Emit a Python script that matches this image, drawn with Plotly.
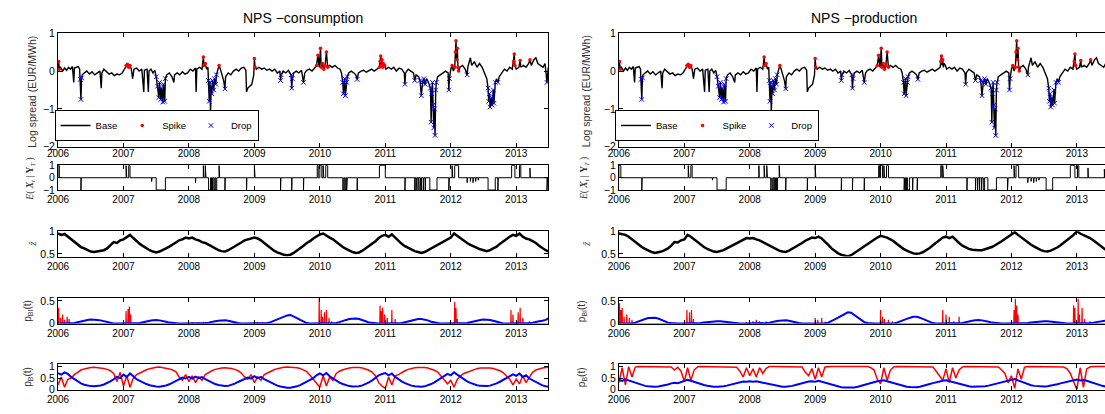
import numpy as np
import plotly.graph_objects as go

W, H = 1105, 414
years = [2006, 2007, 2008, 2009, 2010, 2011, 2012, 2013]

# ---------------- Row 1: log spread (decimal year, value) ----------------
spread_t = [
    2006.00, 2006.01, 2006.02, 2006.04, 2006.07, 2006.10, 2006.13, 2006.16, 2006.19, 2006.22, 2006.24, 2006.25,
    2006.28, 2006.31, 2006.33, 2006.34, 2006.35, 2006.36, 2006.37, 2006.40, 2006.44, 2006.48, 2006.52, 2006.56,
    2006.60, 2006.64, 2006.66, 2006.67, 2006.70, 2006.74, 2006.78, 2006.82, 2006.86, 2006.90, 2006.94, 2006.98,
    2007.01, 2007.04, 2007.06, 2007.08, 2007.10, 2007.12, 2007.14, 2007.16, 2007.20, 2007.24, 2007.28, 2007.31,
    2007.32, 2007.36, 2007.38, 2007.39, 2007.42, 2007.45, 2007.48, 2007.50, 2007.52, 2007.54, 2007.55, 2007.57,
    2007.58, 2007.60, 2007.61, 2007.63, 2007.64, 2007.66, 2007.70, 2007.74, 2007.77, 2007.78, 2007.82, 2007.86,
    2007.90, 2007.94, 2007.98,
    2008.02, 2008.06, 2008.10, 2008.11, 2008.12, 2008.16, 2008.20, 2008.22, 2008.23, 2008.25, 2008.27, 2008.29,
    2008.30, 2008.31, 2008.32, 2008.33, 2008.34, 2008.35, 2008.36, 2008.38, 2008.39, 2008.41, 2008.42, 2008.44,
    2008.46, 2008.48, 2008.51, 2008.53, 2008.55, 2008.56, 2008.60, 2008.64, 2008.68, 2008.72, 2008.76, 2008.80,
    2008.84, 2008.87, 2008.88, 2008.90, 2008.93, 2008.96, 2008.99,
    2009.00, 2009.01, 2009.03, 2009.07, 2009.11, 2009.15, 2009.19, 2009.23, 2009.27, 2009.31, 2009.35, 2009.39,
    2009.40, 2009.41, 2009.44, 2009.48, 2009.52, 2009.56, 2009.57, 2009.58, 2009.60, 2009.64, 2009.68, 2009.72,
    2009.75, 2009.77, 2009.80, 2009.84, 2009.88, 2009.92, 2009.95, 2009.97, 2009.99,
    2010.01, 2010.02, 2010.04, 2010.06, 2010.08, 2010.10, 2010.12, 2010.15, 2010.19, 2010.23, 2010.27, 2010.31,
    2010.33, 2010.35, 2010.36, 2010.38, 2010.39, 2010.41, 2010.42, 2010.44, 2010.48, 2010.52, 2010.55, 2010.57,
    2010.59, 2010.63, 2010.67, 2010.71, 2010.75, 2010.79, 2010.83, 2010.87, 2010.91, 2010.92, 2010.93, 2010.94,
    2010.95, 2010.96, 2010.97, 2010.99,
    2011.01, 2011.05, 2011.09, 2011.13, 2011.17, 2011.21, 2011.25, 2011.29, 2011.30, 2011.31, 2011.35, 2011.39,
    2011.43, 2011.45, 2011.47, 2011.51, 2011.53, 2011.55, 2011.57, 2011.59, 2011.61, 2011.63, 2011.66, 2011.69,
    2011.70, 2011.71, 2011.72, 2011.73, 2011.74, 2011.75, 2011.76, 2011.77, 2011.78, 2011.80, 2011.84, 2011.88,
    2011.92, 2011.96, 2011.97, 2011.98,
    2012.00, 2012.02, 2012.04, 2012.06, 2012.07, 2012.08, 2012.09, 2012.10, 2012.11, 2012.12, 2012.14, 2012.18,
    2012.22, 2012.25, 2012.26, 2012.28, 2012.30, 2012.32, 2012.36, 2012.40, 2012.44, 2012.48, 2012.52, 2012.55,
    2012.57, 2012.58, 2012.59, 2012.60, 2012.62, 2012.63, 2012.65, 2012.66, 2012.68, 2012.70, 2012.72, 2012.74,
    2012.78, 2012.82, 2012.86, 2012.90, 2012.94, 2012.96, 2012.97, 2012.98,
    2013.00, 2013.04, 2013.06, 2013.07, 2013.11, 2013.15, 2013.19, 2013.21, 2013.23, 2013.27, 2013.30, 2013.33,
    2013.37, 2013.41, 2013.44, 2013.47, 2013.49,
]
spread_v = [
    0.05, 0.25, 0.05, 0.10, 0.00, 0.08, 0.02, 0.10, 0.05, 0.12, -0.30, 0.08,
    0.10, 0.12, 0.05, -0.22, -0.75, -0.18, -0.10, -0.05, 0.00, -0.08, -0.02, -0.10,
    -0.05, 0.00, -0.45, -0.05, 0.05, -0.02, -0.08, -0.05, -0.12, -0.08, -0.10, -0.05,
    0.05, 0.15, 0.18, 0.10, 0.15, 0.05, -0.20, 0.05, 0.08, 0.00, 0.05, -0.55,
    0.02, 0.05, -0.55, 0.00, 0.05, -0.05, 0.02, -0.15, -0.40, -0.70, -0.30, -0.75,
    -0.45, -0.82, -0.35, -0.80, -0.20, -0.10, -0.05, -0.15, -0.30, -0.10, -0.05, -0.10,
    -0.02, -0.08, -0.05,
    0.05, 0.00, 0.08, -0.55, 0.05, 0.10, 0.05, 0.37, 0.15, 0.20, 0.05, 0.10,
    -0.25, -0.80, -0.30, -1.10, -0.40, -0.60, -0.25, -0.50, -0.20, -0.35, -0.10, 0.00,
    0.15, 0.05, -0.10, -0.25, -0.47, -0.15, -0.05, -0.10, 0.00, 0.05, 0.00, 0.08,
    0.10, 0.02, -0.55, -0.45, -0.40, -0.35, -0.10,
    0.33, 0.10, 0.05, 0.10, 0.05, 0.08, 0.02, 0.05, 0.00, 0.05, -0.05, 0.00,
    -0.25, -0.10, 0.00, -0.05, 0.02, -0.10, -0.45, -0.20, -0.05, 0.00, -0.05, 0.02,
    -0.30, -0.05, 0.02, 0.05, 0.00, 0.08, 0.15, 0.42, 0.10,
    0.60, 0.10, 0.20, 0.05, 0.15, 0.50, 0.10, 0.15, 0.10, 0.15, 0.08, 0.05,
    -0.05, -0.30, -0.60, -0.20, -0.65, -0.30, -0.15, -0.05, 0.00, -0.05, -0.10, -0.22,
    -0.05, 0.00, 0.02, -0.03, 0.00, 0.05, 0.00, 0.05, 0.10, 0.25, 0.40, 0.15,
    0.30, 0.10, 0.20, 0.15,
    0.05, 0.10, 0.05, 0.10, 0.00, 0.08, 0.05, -0.05, -0.35, -0.05, 0.05, 0.00,
    -0.05, -0.25, -0.10, -0.15, -0.25, -0.65, -0.30, -0.20, -0.35, -0.20, -0.30, -0.45,
    -1.35, -0.60, -0.30, -0.90, -1.50, -1.00, -1.70, -0.50, -0.30, -0.15, -0.10, -0.05,
    0.00, -0.05, -0.50, -0.20,
    0.05, 0.15, 0.00, 0.10, 0.50, 0.80, 0.30, 0.60, 0.10, 0.00, 0.10, 0.15,
    0.05, -0.10, 0.10, 0.20, 0.35, 0.15, 0.25, 0.10, 0.20, 0.10, -0.05, -0.20,
    -0.45, -0.80, -0.60, -0.95, -0.70, -0.90, -0.50, -0.85, -0.30, -0.20, -0.30, -0.15,
    -0.05, 0.05, 0.00, 0.10, 0.05, 0.25, 0.45, 0.15,
    0.05, 0.10, 0.28, 0.10, 0.15, 0.10, 0.20, 0.30, 0.15, 0.30, 0.35, 0.20,
    0.15, 0.10, 0.20, -0.30, 0.10,
]
spike_t_cons = [
    2006.01, 2006.02, 2007.04, 2007.06, 2007.08, 2007.10, 2008.22, 2008.23, 2008.25, 2008.46,
    2009.00, 2009.01, 2009.95, 2009.97, 2010.01, 2010.02, 2010.04, 2010.06, 2010.08, 2010.10,
    2010.12, 2010.91, 2010.92, 2010.93, 2010.94, 2010.95, 2010.96, 2010.97, 2010.99, 2012.02,
    2012.06, 2012.07, 2012.08, 2012.09, 2012.10, 2012.11, 2012.12, 2012.96, 2012.97, 2012.98,
    2013.06, 2013.21,
]
spike_t_prod = [
    2006.01, 2006.02, 2007.04, 2007.06, 2007.08, 2007.10, 2008.22, 2008.23, 2008.25, 2008.46,
    2009.00, 2009.01, 2009.95, 2009.97, 2010.01, 2010.02, 2010.04, 2010.06, 2010.08, 2010.10,
    2010.12, 2010.92, 2010.93, 2010.95, 2012.02,
    2012.06, 2012.07, 2012.08, 2012.09, 2012.10, 2012.11, 2012.12, 2012.96, 2012.97, 2012.98,
    2013.06, 2013.21,
]
drop_t = [
    2006.34, 2006.35, 2006.36, 2007.50, 2007.52, 2007.54, 2007.55, 2007.57, 2007.58, 2007.60,
    2007.61, 2007.63, 2007.64, 2008.30, 2008.31, 2008.32, 2008.33, 2008.34, 2008.35, 2008.36,
    2008.38, 2008.39, 2008.41, 2008.42, 2008.55, 2009.40, 2009.41, 2009.56, 2009.57, 2009.58,
    2009.75, 2010.35, 2010.36, 2010.38, 2010.39, 2010.41, 2010.42, 2010.57, 2011.30, 2011.45,
    2011.53, 2011.55, 2011.57, 2011.59, 2011.61, 2011.69, 2011.70, 2011.71, 2011.72, 2011.73,
    2011.74, 2011.75, 2011.76, 2011.77, 2011.78, 2011.97, 2011.98, 2012.25, 2012.57, 2012.58,
    2012.59, 2012.60, 2012.62, 2012.63, 2012.65, 2012.66, 2012.68, 2012.72, 2013.47,
]

# ---------------- Row 2: E(X_t | Y_T) regime episodes (start, end, level) ----------------
cons_E_start = [2006.000, 2006.350, 2007.040, 2007.080, 2007.430, 2007.500, 2008.100, 2008.220, 2008.250,
                2008.300, 2008.345, 2008.380, 2008.410, 2008.460, 2008.550, 2008.880, 2009.000, 2009.400,
                2009.570, 2009.750, 2009.960, 2010.000, 2010.050, 2010.090, 2010.350, 2010.380, 2010.410,
                2010.570, 2010.910, 2011.300, 2011.450, 2011.470, 2011.500, 2011.530, 2011.550, 2011.580,
                2011.610, 2011.680, 2011.970, 2012.020, 2012.060, 2012.250, 2012.300, 2012.340, 2012.380,
                2012.420, 2012.570, 2012.720, 2012.930, 2013.050, 2013.210, 2013.470]
cons_E_end = [2006.020, 2006.355, 2007.050, 2007.100, 2007.435, 2007.640, 2008.105, 2008.230, 2008.260,
              2008.330, 2008.360, 2008.395, 2008.425, 2008.470, 2008.555, 2008.885, 2009.010, 2009.405,
              2009.575, 2009.755, 2009.975, 2010.030, 2010.060, 2010.120, 2010.365, 2010.395, 2010.420,
              2010.575, 2011.000, 2011.305, 2011.455, 2011.480, 2011.505, 2011.540, 2011.555, 2011.590,
              2011.615, 2011.790, 2011.980, 2012.030, 2012.120, 2012.255, 2012.305, 2012.345, 2012.385,
              2012.425, 2012.680, 2012.725, 2012.980, 2013.070, 2013.215, 2013.480]
cons_E_level = [1, -1, 1, 1, -0.3, -1, -0.4, 1, 1,
                -1, -1, -1, -1, 1, -1, -1, 1, -1,
                -1, -1, 1, 1, 1, 1, -1, -1, -1,
                -1, 1, -1, -1, -1, -1, -1, -1, -1,
                -1, -1, -1, 1, 1, -0.4, -0.3, -0.4, -0.3,
                -0.2, -1, -1, 1, 1, 0.8, -1]

prod_E_start = [2006.000, 2006.350, 2007.060, 2007.100, 2007.430, 2007.500, 2008.140, 2008.220, 2008.260,
                2008.320, 2008.345, 2008.380, 2008.410, 2008.450, 2008.550, 2008.880, 2009.000, 2009.400,
                2009.570, 2009.750, 2009.970, 2010.000, 2010.050, 2010.090, 2010.360, 2010.380, 2010.410,
                2010.490, 2010.560, 2010.920, 2010.950, 2011.320, 2011.450, 2011.480, 2011.510, 2011.540,
                2011.570, 2011.640, 2011.940, 2012.040, 2012.070, 2012.250, 2012.300, 2012.340, 2012.380,
                2012.420, 2012.530, 2012.900, 2013.010, 2013.170, 2013.420]
prod_E_end = [2006.030, 2006.355, 2007.070, 2007.120, 2007.435, 2007.640, 2008.145, 2008.230, 2008.270,
              2008.340, 2008.360, 2008.395, 2008.425, 2008.460, 2008.555, 2008.885, 2009.010, 2009.405,
              2009.575, 2009.755, 2009.985, 2010.030, 2010.060, 2010.120, 2010.370, 2010.395, 2010.440,
              2010.495, 2010.565, 2010.935, 2010.960, 2011.325, 2011.455, 2011.490, 2011.515, 2011.550,
              2011.590, 2011.770, 2011.950, 2012.050, 2012.110, 2012.255, 2012.305, 2012.345, 2012.385,
              2012.425, 2012.630, 2012.970, 2013.030, 2013.175, 2013.425]
prod_E_level = [1, -1, 1, 1, -0.2, -1, 1, 1, 1,
                -1, -1, -1, -1, 1, -1, -1, 1, -1,
                -1, -1, 1, 1, 1, 1, -1, -1, -1,
                -1, -1, 1, 1, -1, -1, -1, -1, -1,
                -1, -1, -1, 1, 1, -0.4, -0.3, -0.4, -0.3,
                -0.2, -1, 1, 1, 0.8, 0.7]

# ---------------- Rows 3-5: series on a common grid, 2006.00 .. 2013.50 every 0.05 yr ----------------
cons_z = [
    0.95, 0.92, 0.94, 0.88, 0.82, 0.75, 0.69, 0.65, 0.62, 0.58, 0.55, 0.54, 0.55, 0.57, 0.58, 0.62, 0.68, 0.76, 0.74, 0.80,
    0.82, 0.88, 0.92, 0.85, 0.78, 0.72, 0.67, 0.62, 0.58, 0.55, 0.53, 0.55, 0.58, 0.62, 0.66, 0.70, 0.75, 0.80, 0.82, 0.86,
    0.84, 0.86, 0.82, 0.80, 0.76, 0.74, 0.70, 0.66, 0.62, 0.58, 0.56, 0.55, 0.58, 0.62, 0.66, 0.70, 0.75, 0.80, 0.82, 0.84,
    0.86, 0.84, 0.80, 0.74, 0.68, 0.62, 0.57, 0.53, 0.50, 0.48, 0.47, 0.48, 0.52, 0.57, 0.62, 0.68, 0.74, 0.78, 0.84, 0.88,
    0.93, 0.95, 0.90, 0.86, 0.82, 0.76, 0.70, 0.65, 0.61, 0.57, 0.54, 0.52, 0.53, 0.57, 0.62, 0.67, 0.72, 0.78, 0.85, 0.90,
    0.92, 0.88, 0.93, 0.86, 0.78, 0.72, 0.67, 0.63, 0.60, 0.56, 0.54, 0.52, 0.54, 0.58, 0.62, 0.66, 0.70, 0.74, 0.78, 0.82,
    0.86, 0.95, 0.90, 0.84, 0.78, 0.74, 0.70, 0.66, 0.63, 0.60, 0.58, 0.56, 0.58, 0.62, 0.66, 0.72, 0.78, 0.84, 0.88, 0.92,
    0.90, 0.95, 0.88, 0.84, 0.82, 0.78, 0.74, 0.68, 0.62, 0.58, 0.55,
]
prod_z = [
    0.95, 0.93, 0.92, 0.88, 0.82, 0.76, 0.70, 0.65, 0.61, 0.57, 0.54, 0.52, 0.53, 0.55, 0.58, 0.62, 0.68, 0.76, 0.75, 0.80,
    0.82, 0.92, 0.88, 0.82, 0.76, 0.70, 0.65, 0.61, 0.58, 0.55, 0.54, 0.56, 0.58, 0.62, 0.66, 0.70, 0.74, 0.78, 0.82, 0.85,
    0.84, 0.85, 0.82, 0.80, 0.76, 0.72, 0.68, 0.64, 0.60, 0.57, 0.55, 0.54, 0.57, 0.61, 0.65, 0.70, 0.74, 0.79, 0.82, 0.86,
    0.85, 0.88, 0.84, 0.78, 0.70, 0.62, 0.56, 0.51, 0.48, 0.46, 0.44, 0.47, 0.52, 0.57, 0.62, 0.68, 0.73, 0.78, 0.82, 0.86,
    0.90, 0.88, 0.86, 0.82, 0.78, 0.72, 0.66, 0.61, 0.57, 0.54, 0.51, 0.50, 0.51, 0.54, 0.58, 0.63, 0.69, 0.75, 0.80, 0.86,
    0.88, 0.85, 0.88, 0.80, 0.74, 0.68, 0.64, 0.61, 0.59, 0.58, 0.58, 0.58, 0.60, 0.62, 0.65, 0.69, 0.73, 0.78, 0.83, 0.88,
    0.92, 0.98, 0.92, 0.86, 0.80, 0.75, 0.70, 0.66, 0.62, 0.58, 0.56, 0.55, 0.57, 0.60, 0.64, 0.69, 0.74, 0.80, 0.86, 0.92,
    1.00, 0.95, 0.92, 0.88, 0.85, 0.80, 0.74, 0.68, 0.63, 0.58, 0.55,
]
cons_pBI_blue = [
    0, 0, 0, 0, 0, 0.01, 0.03, 0.05, 0.07, 0.08, 0.09, 0.09, 0.08, 0.07, 0.05, 0.03, 0.01, 0, 0, 0,
    0, 0, 0, 0, 0, 0.01, 0.03, 0.05, 0.06, 0.07, 0.08, 0.07, 0.06, 0.04, 0.02, 0.01, 0, 0, 0, 0,
    0, 0, 0, 0, 0, 0.01, 0.02, 0.04, 0.05, 0.06, 0.07, 0.07, 0.06, 0.04, 0.02, 0.01, 0, 0, 0, 0,
    0, 0, 0, 0, 0.01, 0.03, 0.06, 0.09, 0.12, 0.15, 0.18, 0.19, 0.16, 0.12, 0.08, 0.04, 0.01, 0, 0, 0,
    0, 0, 0, 0, 0, 0.01, 0.03, 0.06, 0.08, 0.10, 0.11, 0.11, 0.10, 0.08, 0.05, 0.02, 0.01, 0, 0, 0,
    0, 0, 0, 0, 0, 0.01, 0.03, 0.05, 0.07, 0.09, 0.10, 0.10, 0.09, 0.07, 0.04, 0.02, 0.01, 0, 0, 0,
    0, 0, 0, 0, 0, 0.01, 0.03, 0.05, 0.07, 0.08, 0.09, 0.09, 0.08, 0.06, 0.04, 0.02, 0, 0, 0, 0,
    0, 0, 0, 0, 0.01, 0.02, 0.04, 0.05, 0.06, 0.08, 0.12,
]
prod_pBI_blue = [
    0, 0, 0, 0, 0, 0.02, 0.05, 0.08, 0.10, 0.12, 0.13, 0.13, 0.11, 0.08, 0.05, 0.02, 0.01, 0, 0, 0,
    0, 0, 0, 0, 0, 0.01, 0.02, 0.03, 0.04, 0.05, 0.05, 0.05, 0.04, 0.03, 0.02, 0.01, 0, 0, 0, 0,
    0, 0, 0, 0, 0, 0.01, 0.02, 0.04, 0.05, 0.06, 0.07, 0.07, 0.06, 0.04, 0.02, 0.01, 0, 0, 0, 0,
    0, 0, 0, 0, 0.02, 0.05, 0.09, 0.13, 0.17, 0.21, 0.25, 0.24, 0.19, 0.13, 0.07, 0.03, 0.01, 0, 0, 0,
    0, 0, 0, 0, 0, 0.02, 0.05, 0.08, 0.11, 0.13, 0.15, 0.15, 0.13, 0.10, 0.06, 0.03, 0.01, 0, 0, 0,
    0, 0, 0, 0, 0, 0.01, 0.03, 0.05, 0.06, 0.07, 0.08, 0.07, 0.06, 0.04, 0.02, 0.01, 0, 0, 0, 0,
    0, 0, 0, 0, 0, 0.01, 0.02, 0.03, 0.04, 0.04, 0.05, 0.05, 0.04, 0.03, 0.02, 0.01, 0, 0, 0, 0,
    0, 0, 0, 0, 0.01, 0.02, 0.03, 0.04, 0.05, 0.06, 0.08,
]
cons_pB_red = [
    0.20, 0.55, 0.10, 0.45, 0.50, 0.65, 0.75, 0.85, 0.90, 0.94, 0.96, 0.97, 0.96, 0.94, 0.92, 0.88, 0.82, 0.70, 0.35, 0.75,
    0.15, 0.60, 0.10, 0.50, 0.65, 0.72, 0.80, 0.86, 0.91, 0.95, 0.97, 0.98, 0.96, 0.93, 0.90, 0.85, 0.78, 0.55, 0.40, 0.65,
    0.35, 0.60, 0.30, 0.55, 0.40, 0.65, 0.75, 0.82, 0.88, 0.92, 0.94, 0.95, 0.94, 0.92, 0.88, 0.82, 0.72, 0.55, 0.45, 0.65,
    0.30, 0.55, 0.40, 0.65, 0.72, 0.80, 0.86, 0.91, 0.95, 0.97, 0.98, 0.98, 0.97, 0.95, 0.92, 0.86, 0.78, 0.62, 0.45, 0.30,
    0.10, 0.60, 0.15, 0.55, 0.40, 0.70, 0.80, 0.86, 0.91, 0.94, 0.96, 0.97, 0.96, 0.94, 0.90, 0.84, 0.75, 0.60, 0.30, 0.15,
    0.05, 0.55, 0.20, 0.60, 0.65, 0.75, 0.82, 0.88, 0.92, 0.95, 0.96, 0.97, 0.96, 0.94, 0.90, 0.84, 0.76, 0.60, 0.45, 0.25,
    0.40, 0.10, 0.45, 0.60, 0.70, 0.76, 0.82, 0.87, 0.91, 0.94, 0.95, 0.95, 0.94, 0.92, 0.88, 0.82, 0.74, 0.60, 0.45, 0.20,
    0.45, 0.25, 0.60, 0.30, 0.55, 0.75, 0.85, 0.90, 0.94, 0.96, 0.97,
]
cons_pB_blue = [
    0.72, 0.65, 0.75, 0.68, 0.55, 0.45, 0.35, 0.27, 0.21, 0.17, 0.15, 0.14, 0.15, 0.18, 0.22, 0.28, 0.36, 0.45, 0.55, 0.50,
    0.65, 0.55, 0.70, 0.58, 0.45, 0.38, 0.30, 0.24, 0.19, 0.15, 0.13, 0.12, 0.14, 0.18, 0.23, 0.30, 0.38, 0.46, 0.52, 0.48,
    0.55, 0.48, 0.56, 0.50, 0.54, 0.45, 0.38, 0.30, 0.24, 0.20, 0.17, 0.15, 0.16, 0.20, 0.26, 0.33, 0.40, 0.46, 0.52, 0.48,
    0.58, 0.50, 0.55, 0.45, 0.38, 0.30, 0.23, 0.17, 0.13, 0.10, 0.08, 0.08, 0.10, 0.14, 0.19, 0.26, 0.34, 0.42, 0.50, 0.62,
    0.70, 0.62, 0.72, 0.58, 0.48, 0.38, 0.30, 0.24, 0.19, 0.15, 0.13, 0.12, 0.14, 0.18, 0.24, 0.31, 0.40, 0.50, 0.62, 0.68,
    0.72, 0.62, 0.70, 0.55, 0.44, 0.36, 0.28, 0.22, 0.17, 0.14, 0.12, 0.12, 0.14, 0.18, 0.24, 0.31, 0.40, 0.50, 0.60, 0.68,
    0.62, 0.75, 0.65, 0.55, 0.45, 0.36, 0.29, 0.23, 0.19, 0.16, 0.15, 0.15, 0.17, 0.21, 0.27, 0.34, 0.42, 0.50, 0.58, 0.66,
    0.60, 0.70, 0.55, 0.62, 0.48, 0.40, 0.31, 0.24, 0.18, 0.14, 0.12,
]
prod_pB_red = [
    0.30, 0.95, 0.20, 1.00, 0.55, 0.98, 1, 1, 1, 1, 1, 1, 1, 1, 1, 1, 0.98, 0.85, 0.97, 0.80,
    0.35, 0.95, 0.40, 0.85, 0.98, 1, 1, 1, 1, 1, 1, 1, 1, 1, 1, 1, 0.97, 0.80, 0.55, 0.95,
    0.60, 0.90, 0.55, 0.95, 0.70, 0.92, 1, 1, 1, 1, 1, 1, 1, 1, 1, 1, 0.98, 0.75, 0.60, 0.92,
    0.45, 0.95, 0.55, 0.98, 1, 1, 1, 1, 1, 1, 1, 1, 1, 1, 1, 1, 1, 0.95, 0.85, 0.45,
    0.25, 0.95, 0.40, 0.85, 0.98, 1, 1, 1, 1, 1, 1, 1, 1, 1, 1, 1, 0.98, 0.80, 0.60, 0.40,
    0.90, 0.30, 0.95, 0.50, 0.85, 0.98, 1, 1, 1, 1, 1, 1, 1, 1, 1, 1, 0.98, 0.85, 0.70, 0.30,
    0.60, 0.05, 0.90, 0.45, 0.98, 1, 1, 1, 1, 1, 1, 1, 1, 1, 1, 1, 0.98, 0.90, 0.70, 0.35,
    0.00, 0.95, 0.10, 0.90, 0.98, 1, 1, 1, 1, 1, 1,
]
prod_pB_blue = [
    0.42, 0.38, 0.45, 0.40, 0.35, 0.30, 0.25, 0.20, 0.16, 0.14, 0.12, 0.12, 0.13, 0.15, 0.18, 0.22, 0.27, 0.30, 0.28, 0.32,
    0.35, 0.42, 0.38, 0.33, 0.28, 0.24, 0.20, 0.17, 0.14, 0.12, 0.12, 0.12, 0.14, 0.17, 0.21, 0.25, 0.29, 0.33, 0.35, 0.34,
    0.36, 0.34, 0.36, 0.33, 0.30, 0.26, 0.22, 0.18, 0.15, 0.13, 0.12, 0.12, 0.13, 0.16, 0.20, 0.24, 0.28, 0.32, 0.35, 0.36,
    0.34, 0.38, 0.34, 0.30, 0.25, 0.20, 0.16, 0.13, 0.10, 0.09, 0.08, 0.08, 0.09, 0.12, 0.16, 0.21, 0.26, 0.30, 0.33, 0.36,
    0.38, 0.40, 0.36, 0.32, 0.27, 0.22, 0.18, 0.15, 0.12, 0.11, 0.10, 0.10, 0.12, 0.15, 0.19, 0.24, 0.28, 0.32, 0.34, 0.38,
    0.40, 0.36, 0.34, 0.31, 0.26, 0.21, 0.17, 0.14, 0.12, 0.12, 0.12, 0.12, 0.14, 0.17, 0.21, 0.25, 0.29, 0.33, 0.37, 0.40,
    0.42, 0.46, 0.40, 0.34, 0.28, 0.23, 0.19, 0.16, 0.14, 0.13, 0.13, 0.14, 0.16, 0.19, 0.23, 0.27, 0.31, 0.35, 0.38, 0.42,
    0.44, 0.40, 0.42, 0.38, 0.33, 0.27, 0.22, 0.18, 0.15, 0.13, 0.12,
]

# Row 4 red: short-lived spike probabilities (time, height)
cons_pBI_spike_t = [2006.01, 2006.04, 2006.07, 2006.10, 2006.14, 2006.17, 2007.04, 2007.07, 2007.09, 2007.11,
                    2008.05, 2008.15, 2008.22, 2008.30, 2009.00, 2009.05, 2009.12, 2009.99, 2010.02, 2010.04,
                    2010.07, 2010.10, 2010.14, 2010.18, 2010.92, 2010.94, 2010.96, 2010.99, 2011.03, 2011.10,
                    2011.15, 2012.06, 2012.08, 2012.10, 2012.92, 2012.95, 2013.03, 2013.06, 2013.10, 2013.20, 2013.30]
cons_pBI_spike_h = [0.35, 0.12, 0.20, 0.08, 0.15, 0.10, 0.28, 0.32, 0.38, 0.20,
                    0.03, 0.03, 0.04, 0.03, 0.05, 0.04, 0.03, 0.56, 0.30, 0.15,
                    0.25, 0.30, 0.12, 0.05, 0.40, 0.28, 0.35, 0.20, 0.12, 0.30,
                    0.10, 0.48, 0.35, 0.10, 0.30, 0.20, 0.25, 0.35, 0.12, 0.05, 0.03]
prod_pBI_spike_t = [2006.01, 2006.03, 2006.05, 2006.08, 2006.12, 2006.16, 2006.20, 2007.04, 2007.08, 2007.11,
                    2007.14, 2007.95, 2008.05, 2008.10, 2008.15, 2008.25, 2008.32, 2009.00, 2009.04, 2009.10,
                    2009.15, 2010.00, 2010.03, 2010.06, 2010.12, 2010.18, 2010.95, 2011.00, 2011.05, 2011.12,
                    2011.20, 2012.04, 2012.06, 2012.08, 2012.10, 2012.95, 2012.97, 2013.02, 2013.04, 2013.08,
                    2013.12, 2013.20]
prod_pBI_spike_h = [0.45, 0.30, 0.35, 0.15, 0.20, 0.12, 0.08, 0.30, 0.25, 0.30,
                    0.10, 0.03, 0.05, 0.08, 0.05, 0.05, 0.03, 0.12, 0.08, 0.12,
                    0.04, 0.30, 0.15, 0.10, 0.08, 0.05, 0.30, 0.20, 0.15, 0.05,
                    0.15, 0.30, 0.55, 0.40, 0.20, 0.40, 0.35, 0.55, 0.20, 0.35,
                    0.10, 0.05]

grid_t = [2006 + 0.05 * k for k in range(len(cons_z))]


def step_path(starts, ends, levels):
    xs, ys = [2006.0], [0.0]
    for s, e, lv in zip(starts, ends, levels):
        xs += [s, s, e, e]
        ys += [0.0, lv, lv, 0.0]
    xs.append(2013.5)
    ys.append(0.0)
    return xs, ys


def spike_path(ts, hs):
    xs, ys = [2006.0], [0.0]
    for t, h in zip(ts, hs):
        xs += [t - 0.004, t, t + 0.004]
        ys += [0.0, h, 0.0]
    xs.append(2013.5)
    ys.append(0.0)
    return xs, ys


lookup = dict(zip(spread_t, spread_v))

fig = go.Figure()
FONT = "Liberation Sans, Arial, sans-serif"

col_px = [(47.5, 542.7, 2013.49), (614.0, 1105.0, 2013.43)]
row_px = [
    (28, 145, [-2, 1], [-2, -1, 0, 1], -3),
    (164, 190, [-1.04, 1.02], [-1, 0, 1], 0),
    (232, 258, [0.44, 1.0], [0.5, 1], 0),
    (301, 327, [0, 0.56], [0, 0.5], 0),
    (369, 395, [0, 1.1], [0, 0.5, 1], 0),
]

layout = {}
for c in range(2):
    x0, x1, xend = col_px[c]
    for r in range(5):
        idx = c * 5 + r + 1
        y0, y1, yr, ytv, stand = row_px[r]
        sfx = "" if idx == 1 else str(idx)
        layout["xaxis" + sfx] = dict(
            domain=[x0 / W, x1 / W], range=[2006.0, xend], anchor="y" + str(idx),
            tickvals=years, ticktext=[str(y) for y in years], ticks="inside", ticklen=4,
            tickcolor="black", showline=True, linecolor="black", linewidth=1, mirror="ticks",
            showgrid=False, zeroline=False, tickfont=dict(family=FONT, size=10, color="black"),
            ticklabelstandoff=stand,
        )
        layout["yaxis" + sfx] = dict(
            domain=[1 - y1 / H, 1 - y0 / H], range=yr, anchor="x" + str(idx),
            tickvals=ytv, ticks="inside", ticklen=4, tickcolor="black", showline=True,
            linecolor="black", linewidth=1, mirror="ticks" if c == 0 else False,
            showgrid=False, zeroline=False, tickfont=dict(family=FONT, size=10.5, color="black"),
        )


def axn(c, r):
    idx = c * 5 + r + 1
    return ("x" if idx == 1 else "x" + str(idx)), ("y" if idx == 1 else "y" + str(idx))


columns = [
    dict(spikes=spike_t_cons, E=(cons_E_start, cons_E_end, cons_E_level), z=cons_z,
         pbi_blue=cons_pBI_blue, pbi_sp=(cons_pBI_spike_t, cons_pBI_spike_h),
         pb_red=cons_pB_red, pb_blue=cons_pB_blue, legend="legend"),
    dict(spikes=spike_t_prod, E=(prod_E_start, prod_E_end, prod_E_level), z=prod_z,
         pbi_blue=prod_pBI_blue, pbi_sp=(prod_pBI_spike_t, prod_pBI_spike_h),
         pb_red=prod_pB_red, pb_blue=prod_pB_blue, legend="legend2"),
]

for c, d in enumerate(columns):
    xa, ya = axn(c, 0)
    fig.add_trace(go.Scatter(x=spread_t, y=spread_v, mode="lines", name="Base",
                             line=dict(color="black", width=1.4), xaxis=xa, yaxis=ya,
                             legend=d["legend"], showlegend=True))
    fig.add_trace(go.Scatter(x=d["spikes"], y=[lookup[t] for t in d["spikes"]], mode="markers",
                             name="Spike", marker=dict(color="red", size=3.5, symbol="circle"),
                             xaxis=xa, yaxis=ya, legend=d["legend"], showlegend=True))
    fig.add_trace(go.Scatter(x=drop_t, y=[lookup[t] for t in drop_t], mode="markers", name="Drop",
                             marker=dict(symbol="x-thin", size=4.5, line=dict(color="blue", width=1)),
                             xaxis=xa, yaxis=ya, legend=d["legend"], showlegend=True))
    # row 2
    xa, ya = axn(c, 1)
    ex, ey = step_path(*d["E"])
    fig.add_trace(go.Scatter(x=ex, y=ey, mode="lines", line=dict(color="black", width=1),
                             xaxis=xa, yaxis=ya, showlegend=False))
    # row 3
    xa, ya = axn(c, 2)
    fig.add_trace(go.Scatter(x=grid_t, y=d["z"], mode="lines", line=dict(color="black", width=2.5),
                             xaxis=xa, yaxis=ya, showlegend=False))
    # row 4
    xa, ya = axn(c, 3)
    sx, sy = spike_path(*d["pbi_sp"])
    fig.add_trace(go.Scatter(x=sx, y=sy, mode="lines", line=dict(color="red", width=1.2),
                             xaxis=xa, yaxis=ya, showlegend=False))
    fig.add_trace(go.Scatter(x=grid_t, y=d["pbi_blue"], mode="lines", line=dict(color="blue", width=2),
                             xaxis=xa, yaxis=ya, showlegend=False))
    # row 5
    xa, ya = axn(c, 4)
    fig.add_trace(go.Scatter(x=grid_t, y=d["pb_red"], mode="lines", line=dict(color="red", width=1.5),
                             xaxis=xa, yaxis=ya, showlegend=False))
    fig.add_trace(go.Scatter(x=grid_t, y=d["pb_blue"], mode="lines", line=dict(color="blue", width=2),
                             xaxis=xa, yaxis=ya, showlegend=False))

legend_common = dict(orientation="h", xanchor="left", yanchor="bottom", bgcolor="white",
                     bordercolor="black", borderwidth=1, font=dict(family=FONT, size=9.5, color="black"),
                     tracegroupgap=0, itemwidth=30)
layout["legend"] = dict(x=44 / W, y=1 - 139 / H, **legend_common)
layout["legend2"] = dict(x=610 / W, y=1 - 139 / H, **legend_common)

ann = []
titles = [("NPS \u2212consumption", 295.0), ("NPS \u2212production", 861.5)]
for text, xc in titles:
    ann.append(dict(text=text, x=xc / W, y=1 - 12 / H, xref="paper", yref="paper", showarrow=False,
                    xanchor="center", yanchor="middle", font=dict(family=FONT, size=14, color="black")))

ylabels = [
    ("Log spread (EUR/MWh)", 21.5, 88, FONT, 10.5),
    ("<i>E</i>( <b><i>X</i></b><sub><i>t</i></sub> | <b>Y</b><sub><i>T</i></sub> )", 20.0, 178,
     "Liberation Serif, serif", 9.5),
    ("<i>\u1e91</i>", 21.0, 245, "Liberation Serif, serif", 11),
    ("p<sub>BI</sub>(t)", 17.0, 314, FONT, 10),
    ("p<sub>B</sub>(t)", 17.0, 382, FONT, 10),
]
for off in (0.0, 560.0):
    for text, xp, yp, fam, fs in ylabels:
        ann.append(dict(text=text, x=(xp + off) / W, y=1 - yp / H, xref="paper", yref="paper",
                        showarrow=False, textangle=-90, xanchor="center", yanchor="middle",
                        font=dict(family=fam, size=fs, color="#333333")))

fig.update_layout(width=W, height=H, margin=dict(l=0, r=0, t=0, b=0), paper_bgcolor="white",
                  plot_bgcolor="white", annotations=ann, **layout)
fig.write_html("out.html")
